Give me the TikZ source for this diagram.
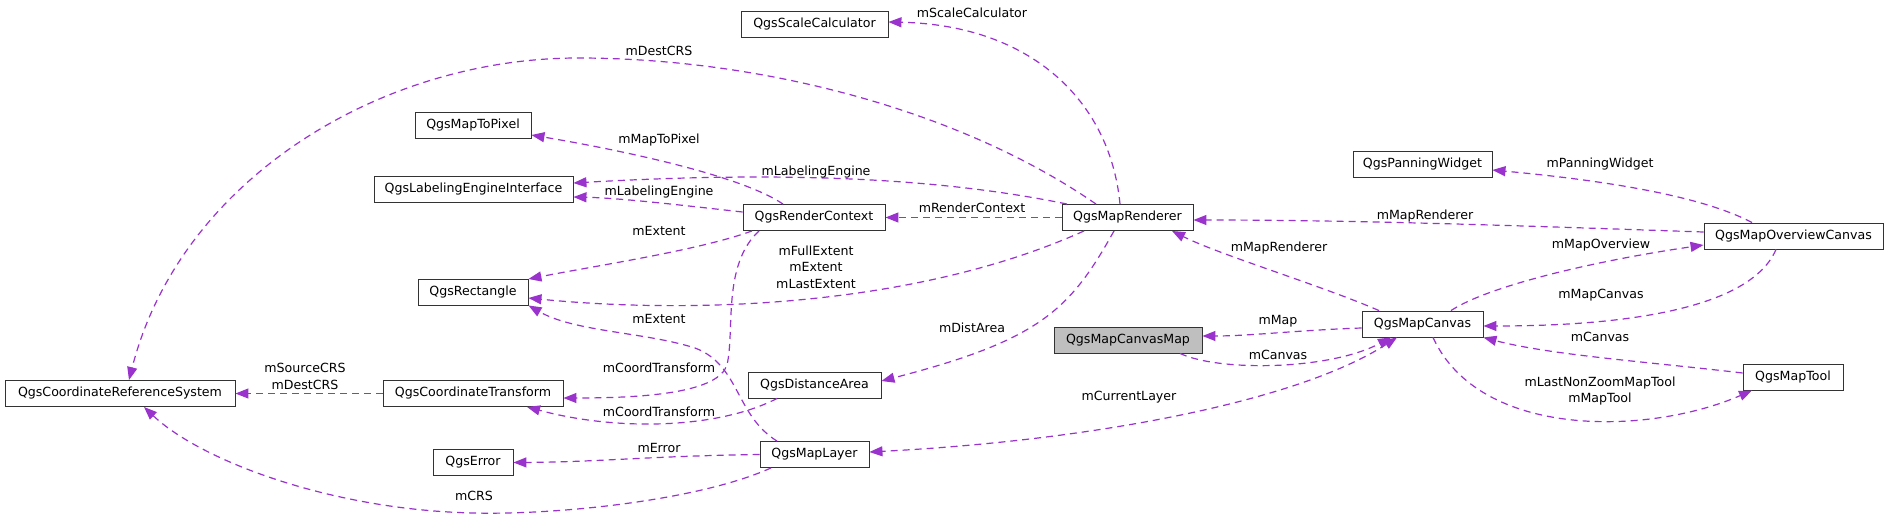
\documentclass[tikz,border=0pt]{standalone}
\usepackage{fontspec}
\setmainfont{DejaVu Sans}
\usetikzlibrary{arrows.meta}
\definecolor{edgec}{HTML}{9A32CD}
\begin{document}
\begin{tikzpicture}[x=1pt,y=-1pt,
 cls/.style={draw=black!80, line width=0.9pt, fill=white, minimum height=26pt, inner sep=0pt, font=\fontsize{12.6}{15}\selectfont},
 edge/.style={draw=edgec, line width=1.2pt, dash pattern=on 7pt off 5pt, -{Triangle[length=13pt,width=10pt]}},
 both/.style={{Triangle[length=13pt,width=10pt]}-{Triangle[length=13pt,width=10pt]}},
 lbl/.style={font=\fontsize{12.6}{16.5}\selectfont, inner sep=0pt, align=center}]
\useasboundingbox (0,0) rectangle (1888,520);
% classes
\node[cls,minimum width=147pt] (sc) at (814.5,24) {QgsScaleCalculator};
\node[cls,minimum width=116pt] (mtp) at (473,125) {QgsMapToPixel};
\node[cls,minimum width=199pt] (lei) at (473.5,189) {QgsLabelingEngineInterface};
\node[cls,minimum width=110pt] (rect) at (473,292) {QgsRectangle};
\node[cls,minimum width=230pt] (crs) at (120,393.5) {QgsCoordinateReferenceSystem};
\node[cls,minimum width=180pt] (ct) at (473,393.5) {QgsCoordinateTransform};
\node[cls,minimum width=80pt] (err) at (473,462.5) {QgsError};
\node[cls,minimum width=142pt] (rc) at (814,217.5) {QgsRenderContext};
\node[cls,minimum width=131pt] (mr) at (1127.5,217.5) {QgsMapRenderer};
\node[cls,minimum width=133pt] (da) at (814.5,385) {QgsDistanceArea};
\node[cls,minimum width=109pt] (ml) at (814.5,454.5) {QgsMapLayer};
\node[cls,minimum width=148pt,fill=gray!50] (mcm) at (1128,340) {QgsMapCanvasMap};
\node[cls,minimum width=139pt] (pw) at (1422.5,164) {QgsPanningWidget};
\node[cls,minimum width=179pt] (moc) at (1793.5,236) {QgsMapOverviewCanvas};
\node[cls,minimum width=121pt] (mc) at (1422.5,324) {QgsMapCanvas};
\node[cls,minimum width=100pt] (mt) at (1793,377) {QgsMapTool};
% edges
\draw[edge] ([xshift=-7.5pt]mr.north) .. controls (1110,100) and (1030,25) .. ([yshift=2pt]sc.east);
\draw[edge] ([xshift=-31.5pt]mr.north) .. controls (960,110) and (760,58) .. (578,58) .. controls (380,58) and (180,180) .. ([xshift=9pt]crs.north);
\draw[edge] ([xshift=-31pt]rc.north) .. controls (740,175) and (620,150) .. ([yshift=-10pt]mtp.east);
\draw[edge] ([xshift=-60.5pt]mr.north) .. controls (950,180) and (800,170) .. ([yshift=6pt]lei.east);
\draw[edge] ([yshift=5.5pt]rc.west) .. controls (680,205) and (620,198) .. ([yshift=-8pt]lei.east);
\draw[edge] (mr.west) -- (rc.east);
\draw[edge] ([xshift=-62pt]rc.south) .. controls (700,250) and (600,265) .. ([yshift=13pt]rect.east);
\draw[edge] ([xshift=-43.5pt]mr.south) .. controls (920,305) and (700,315) .. ([yshift=-6pt]rect.east);
\draw[edge] ([xshift=-37.5pt]ml.north) .. controls (735,415) and (740,365) .. (695,348) .. controls (645,332) and (575,332) .. (rect.south east);
\draw[edge] ([xshift=-55pt]rc.south) .. controls (722,265) and (735,330) .. (727,365) .. controls (718,392) and (650,398) .. ([yshift=-4.5pt]ct.east);
\draw[edge] ([xshift=-37.5pt]da.south) .. controls (720,428) and (620,432) .. ([xshift=54pt]ct.south);
\draw[edge] ([xshift=-13.5pt]mr.south) .. controls (1070,310) and (1040,340) .. ([yshift=4pt]da.east);
\draw[edge] (ml.west) .. controls (650,456) and (600,462) .. (err.east);
\draw[edge] ([xshift=-43.5pt]ml.south) .. controls (700,500) and (560,515) .. (474,513) .. controls (330,510) and (200,460) .. ([xshift=24pt]crs.south);
\draw[edge] (ct.west) -- (crs.east);
\draw[edge] ([xshift=-43.5pt]mc.north) .. controls (1320,285) and (1220,255) .. ([xshift=44.5pt]mr.south);
\draw[edge] ([yshift=4pt]moc.west) .. controls (1500,225) and (1350,220) .. ([yshift=-2.5pt]mr.east);
\draw[edge] ([xshift=-41.5pt]moc.north) .. controls (1700,195) and (1600,180) .. ([yshift=-6pt]pw.east);
\draw[edge] ([xshift=28.5pt]mc.north) .. controls (1490,285) and (1600,260) .. ([yshift=-9pt]moc.west);
\draw[edge] ([xshift=-17.5pt]moc.south) .. controls (1750,310) and (1620,326) .. ([yshift=-2pt]mc.east);
\draw[edge] ([yshift=4pt]mt.west) .. controls (1650,362) and (1550,355) .. (mc.south east);
\draw[edge] ([xshift=10.5pt]mc.south) .. controls (1480,440) and (1650,435) .. ([xshift=-41pt]mt.south);
\draw[edge] ([yshift=-4pt]mc.west) .. controls (1300,330) and (1250,336) .. ([yshift=4pt]mcm.east);
\draw[edge] ([xshift=52pt]mcm.south) .. controls (1220,372) and (1330,370) .. ([xshift=-31.5pt]mc.south);
\draw[edge,both] ([xshift=-25.5pt]mc.south) .. controls (1300,400) and (1100,440) .. ([yshift=2.5pt]ml.east);
% labels
\node[lbl] (l1) at (972,13) {mScaleCalculator};
\node[lbl] (l2) at (659,51) {mDestCRS};
\node[lbl] (l3) at (659,140) {mMapToPixel};
\node[lbl] (l4) at (816,172) {mLabelingEngine};
\node[lbl] (l5) at (659,192) {mLabelingEngine};
\node[lbl] (l6) at (972,208) {mRenderContext};
\node[lbl] (l7) at (659,231) {mExtent};
\node[lbl] (l8) at (816,267) {mFullExtent\\mExtent\\mLastExtent};
\node[lbl] (l9) at (659,319) {mExtent};
\node[lbl] (l10) at (659,368) {mCoordTransform};
\node[lbl] (l11) at (659,412) {mCoordTransform};
\node[lbl] (l12) at (972,328) {mDistArea};
\node[lbl] (l13) at (659,448) {mError};
\node[lbl] (l14) at (474,496) {mCRS};
\node[lbl] (l15) at (305,376.5) {mSourceCRS\\mDestCRS};
\node[lbl] (l16) at (1279,248) {mMapRenderer};
\node[lbl] (l17) at (1425,216) {mMapRenderer};
\node[lbl] (l18) at (1600,164) {mPanningWidget};
\node[lbl] (l19) at (1601,245) {mMapOverview};
\node[lbl] (l20) at (1601,295) {mMapCanvas};
\node[lbl] (l21) at (1600,337) {mCanvas};
\node[lbl] (l22) at (1600,391) {mLastNonZoomMapTool\\mMapTool};
\node[lbl] (l23) at (1278,321) {mMap};
\node[lbl] (l24) at (1278,355) {mCanvas};
\node[lbl] (l25) at (1129,397) {mCurrentLayer};
\end{tikzpicture}
\end{document}
